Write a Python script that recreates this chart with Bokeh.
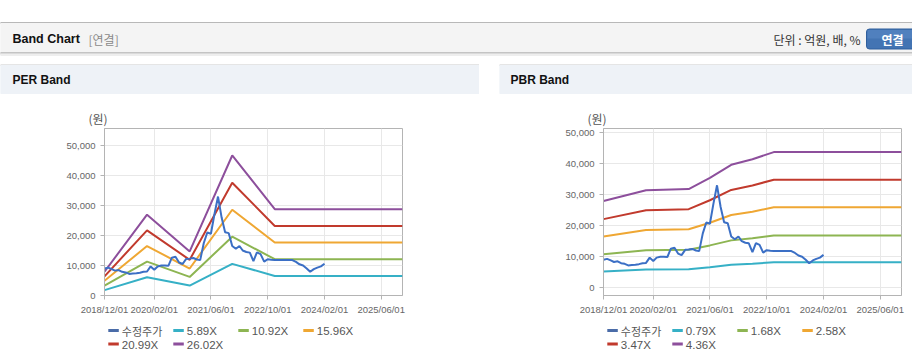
import pandas as pd
from bokeh.plotting import figure
from bokeh.models import (Range1d, FixedTicker, DatetimeTickFormatter, NumeralTickFormatter, Spacer)
from bokeh.layouts import column, row
from bokeh.embed import file_html
from bokeh.resources import INLINE
from bokeh.core.properties import value

# ---------------- data ----------------
price_start = "2018-12-01"
price_end = "2024-02-01"
price = [9000, 9300, 8800, 8300, 8500, 7900, 7700, 7200, 7300, 7400, 7600, 7900, 8000,
         9700, 8600, 9700, 10000, 10000, 9900, 12600, 12900, 11000, 10500, 12200, 12300,
         12500, 12000, 11800, 17500, 21000, 20600, 27000, 33000, 26000, 21100, 20800, 16500,
         15600, 16500, 15000, 14500, 14300, 11500, 14400, 13800, 11300, 12100, 11900, 11800,
         11800, 11800, 11800, 11800, 11800, 11200, 10400, 10000, 9000, 7900, 8800, 9300, 9700, 10600]

per_dates = ["2018-12-01", "2019-12-01", "2020-12-01", "2021-12-01", "2022-12-01", "2025-12-01"]
per_names = ["5.89X", "10.92X", "15.96X", "20.99X", "26.02X"]
per_b1 = [1800, 6100, 3300, 10550, 6500, 6500]
per_b2 = [3300, 11300, 6200, 19600, 12100, 12100]
per_b3 = [4900, 16500, 9000, 28600, 17650, 17650]
per_b4 = [6400, 21700, 11900, 37600, 23200, 23200]
per_b5 = [7950, 26950, 14700, 46700, 28800, 28800]

pbr_dates = ["2018-12-01", "2019-12-01", "2020-12-01", "2021-06-01", "2021-12-01",
             "2022-06-01", "2022-12-01", "2025-12-01"]
pbr_names = ["0.79X", "1.68X", "2.58X", "3.47X", "4.36X"]
pbr_b1 = [5250, 5850, 5950, 6600, 7400, 7750, 8200, 8200]
pbr_b2 = [10770, 12100, 12250, 13640, 15260, 15950, 16850, 16850]
pbr_b3 = [16540, 18580, 18820, 20950, 23430, 24500, 25900, 25900]
pbr_b4 = [22100, 24990, 25310, 28180, 31520, 32950, 34800, 34800]
pbr_b5 = [27950, 31400, 31800, 35400, 39600, 41400, 43700, 43700]

x_ticks = ["2018-12-01", "2020-02-01", "2021-06-01", "2022-10-01", "2024-02-01", "2025-06-01"]
y_ticks = [0, 10000, 20000, 30000, 40000, 50000]
x_start, x_end = "2018-12-01", "2025-12-01"

PRICE_NAME = "수정주가"
COLORS = ["#36b0c6", "#8db552", "#efa733", "#c13a2d", "#8d4f9c"]
PRICE_COLOR = "#3b6fc5"
LEGEND_PRICE_COLOR = "#4a6ca8"

LATIN = "Liberation Sans"
KR = "Noto Sans CJK KR"

price_dates = pd.date_range(price_start, price_end, freq="MS")


def deco_fig(w, h, x0, x1, y0, y1):
    f = figure(width=w, height=h, x_range=Range1d(x0, x1), y_range=Range1d(y1, y0),
               output_backend="svg", toolbar_location=None, min_border=0,
               x_axis_location=None, y_axis_location=None, frame_align=False)
    f.grid.visible = False
    f.outline_line_color = None
    f.background_fill_color = "white"
    f.border_fill_color = "white"
    return f


# ---------------- header ----------------
hdr = deco_fig(912, 64, 0, 912, 0, 64)
hdr.quad(left=[0], right=[912], top=[22], bottom=[23], color="#b8b8b8")
hdr.quad(left=[0], right=[912], top=[23], bottom=[52], color="#f4f4f4")
hdr.quad(left=[0], right=[912], top=[52], bottom=[53], color="#c4c4c4")
hdr.quad(left=[0], right=[912], top=[53], bottom=[54], color="#dadada")
hdr.quad(left=[0], right=[912], top=[54], bottom=[55], color="#eeeeee")
hdr.text(x=[12], y=[38.5], text=["Band Chart"], text_font=value(LATIN), text_font_size=value("12.5px"),
         text_font_style="bold", text_baseline="middle", text_color="#111111")
hdr.text(x=[88], y=[38.5], text=["[연결]"], text_font=value(KR), text_font_size=value("12px"),
         text_baseline="middle", text_color="#8a8a8a")
hdr.text(x=[860], y=[38.5], text=["단위 : 억원, 배, %"], text_font=value(KR), text_font_size=value("12px"),
         text_baseline="middle", text_align="right", text_color="#333333")
hdr.quad(left=[866], right=[916], top=[28.5], bottom=[48.5], fill_color="#4374b3",
         line_color="#2f5e9c", border_radius=3)
hdr.quad(left=[867], right=[913], top=[29.5], bottom=[38], fill_color="#5a89c4", line_color=None,
         fill_alpha=0.6)
hdr.text(x=[892], y=[38.5], text=["연결"], text_font=value(KR), text_font_size=value("12px"),
         text_font_style="bold", text_baseline="middle", text_align="center", text_color="white")


def panel_head(w, x0, title, tx):
    f = deco_fig(w, 30, x0, x0 + w, 64, 94)
    f.quad(left=[x0], right=[x0 + w], top=[64], bottom=[65], color="#d6d6d6")
    f.quad(left=[x0], right=[x0 + w], top=[65], bottom=[93], color="#eef2f7")
    f.text(x=[tx], y=[79], text=[title], text_font=value(LATIN),
           text_font_size=value("12px"), text_font_style="bold", text_baseline="middle",
           text_color="#111111")
    return f


def chart(w, left_border, right_border, ylo, yhi, dates, bands):
    p = figure(width=w, height=224, x_axis_type="datetime",
               x_range=Range1d(pd.Timestamp(x_start), pd.Timestamp(x_end)),
               y_range=Range1d(ylo, yhi), output_backend="svg", toolbar_location=None,
               min_border_left=left_border, min_border_right=right_border,
               min_border_top=34, min_border_bottom=23, frame_align=False)
    p.background_fill_color = "white"
    p.border_fill_color = "white"
    p.outline_line_color = "#b4b4b4"

    bd = pd.to_datetime(dates)
    for vals, col in zip(bands, COLORS):
        p.line(bd, vals, line_color=col, line_width=2)
    p.line(price_dates, price, line_color=PRICE_COLOR, line_width=2)

    p.xaxis.ticker = FixedTicker(ticks=[pd.Timestamp(t).value // 10**6 for t in x_ticks])
    fmt = "%Y/%m/%d"
    p.xaxis.formatter = DatetimeTickFormatter(days=fmt, months=fmt, years=fmt, hours=fmt,
                                              hourmin=fmt, minutes=fmt, seconds=fmt)
    p.yaxis.ticker = FixedTicker(ticks=y_ticks)
    p.yaxis.formatter = NumeralTickFormatter(format="0,0")
    p.axis.axis_line_color = "#b4b4b4"
    p.axis.major_tick_line_color = "#b4b4b4"
    p.axis.major_tick_out = 4
    p.axis.major_tick_in = 0
    p.axis.minor_tick_line_color = None
    p.axis.major_label_text_font = LATIN
    p.axis.major_label_text_font_size = "9.5px"
    p.axis.major_label_text_color = "#666666"
    p.xaxis.major_label_standoff = 4
    p.grid.grid_line_color = "#e8e8e8"

    # unit label "(원)" above the y-axis
    p.text(x=[pd.Timestamp(x_start)], y=[yhi], text=["(원)"], text_font=value(KR),
           text_font_size=value("12px"), text_baseline="middle", text_align="left",
           text_color="#555555", x_offset=-16, y_offset=-10, level="overlay")
    return p


def legend_fig(w, x0, frame_left, names):
    f = deco_fig(w, 44, x0, x0 + w, 318, 362)
    labels = [PRICE_NAME] + list(names)
    cols = [LEGEND_PRICE_COLOR] + COLORS
    for i, (lab, col) in enumerate(zip(labels, cols)):
        r, c = divmod(i, 4)
        lx = frame_left + 3.5 + 65 * c
        ly = 330 + 13.5 * r
        f.segment(x0=[lx], y0=[ly], x1=[lx + 10.5], y1=[ly], line_color=col, line_width=3)
        font = KR if lab == PRICE_NAME else LATIN
        f.text(x=[lx + 13.5], y=[ly + 0.5], text=[lab], text_font=value(font),
               text_font_size=value("11.5px" if lab != PRICE_NAME else "11px"),
               text_baseline="middle", text_color="#555555")
    return f


def bottom_line(w):
    f = deco_fig(w, 2, 0, 1, 0, 1)
    f.background_fill_color = "#cfcfcf"
    f.border_fill_color = "#cfcfcf"
    return f


per = chart(479, 104, 77, 0, 55700, per_dates, [per_b1, per_b2, per_b3, per_b4, per_b5])
pbr = chart(413, 104, 11, -2500, 51300, pbr_dates, [pbr_b1, pbr_b2, pbr_b3, pbr_b4, pbr_b5])

left_panel = column(panel_head(479, 0, "PER Band", 12), per, legend_fig(479, 0, 104.3, per_names),
                    bottom_line(479))
right_panel = column(panel_head(413, 499, "PBR Band", 510), pbr, legend_fig(413, 499, 603.3, pbr_names),
                     bottom_line(413))
layout = column(hdr, row(left_panel, Spacer(width=20, height=300), right_panel))

open("out.html", "w").write(file_html(layout, INLINE))
